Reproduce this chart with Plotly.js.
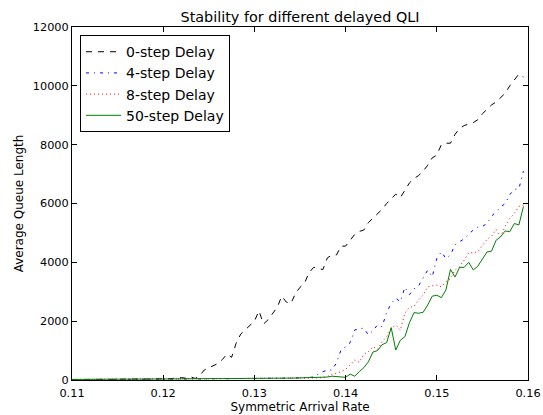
<!DOCTYPE html>
<html>
<head>
<meta charset="utf-8">
<script src="https://cdn.plot.ly/plotly-3.0.1.min.js"></script>
<style>html,body{margin:0;padding:0;background:#fff;}#chart{width:543px;height:415px;}</style>
</head>
<body>
<div id="chart"></div>
<script>
var arrivalRate = [
0.1100,0.1105,0.1110,0.1115,0.1120,0.1125,0.1130,0.1135,0.1140,0.1145,
0.1150,0.1155,0.1160,0.1165,0.1170,0.1175,0.1180,0.1185,0.1190,0.1195,
0.1200,0.1205,0.1210,0.1215,0.1220,0.1225,0.1230,0.1235,0.1240,0.1245,
0.1250,0.1255,0.1260,0.1265,0.1270,0.1275,0.1280,0.1285,0.1290,0.1295,
0.1300,0.1305,0.1310,0.1315,0.1320,0.1325,0.1330,0.1335,0.1340,0.1345,
0.1350,0.1355,0.1360,0.1365,0.1370,0.1375,0.1380,0.1385,0.1390,0.1395,
0.1400,0.1405,0.1410,0.1415,0.1420,0.1425,0.1430,0.1435,0.1440,0.1445,
0.1450,0.1455,0.1460,0.1465,0.1470,0.1475,0.1480,0.1485,0.1490,0.1495,
0.1500,0.1505,0.1510,0.1515,0.1520,0.1525,0.1530,0.1535,0.1540,0.1545,
0.1550,0.1555,0.1560,0.1565,0.1570,0.1575,0.1580,0.1585,0.1590,0.1595];

var delay0 = [
10,15,12,18,15,20,18,22,20,25,
22,28,25,30,28,35,30,38,35,40,
45,40,55,50,80,60,110,50,150,340,
420,480,560,700,880,770,1250,1560,1700,1850,
2000,2350,1900,2050,2250,2470,2850,2650,2600,2940,
3150,3300,3650,3830,3800,3750,4150,4250,4250,4550,
4550,4750,4950,5050,5100,5350,5500,5650,5800,6000,
6150,6320,6200,6450,6700,6850,6950,7100,7300,7550,
7650,8000,8050,8050,8350,8550,8650,8700,8750,8850,
9050,9200,9350,9450,9600,9750,10000,10200,10400,10300];

var delay4 = [
15,18,16,20,17,22,19,21,18,24,
20,23,21,26,22,25,24,28,25,30,
27,32,29,35,30,38,33,40,36,42,
38,45,40,47,43,50,45,52,48,55,
50,57,52,60,55,62,58,65,60,68,
64,72,80,110,200,280,340,340,580,1020,
1130,1270,1700,1750,1760,1530,1680,1870,1810,2300,
2600,2780,2660,3150,2900,3100,3200,3450,3735,3510,
4130,4360,4130,4250,4600,4700,4800,4950,5100,5200,
5220,5320,5570,5720,5880,6000,6300,6480,6500,7100];

var delay8 = [
18,20,17,22,19,23,21,25,22,26,
24,28,25,30,27,32,29,34,31,36,
33,38,35,40,37,42,39,44,41,46,
43,48,45,50,47,52,49,54,51,56,
53,58,55,60,57,62,59,64,61,66,
63,68,66,72,70,78,120,200,230,280,
360,510,680,600,880,960,1130,1040,1300,1470,
1750,1870,1700,2270,2470,2500,2720,2890,3170,3200,
3225,3170,3340,3450,3735,3870,4075,4325,4325,4360,
4585,4780,4890,5120,4870,5230,5490,5660,5900,5950];

var delay50 = [
20,22,21,24,23,25,24,27,26,28,
27,30,29,31,30,33,32,34,33,36,
35,38,37,40,39,42,41,44,43,46,
45,48,47,50,49,52,51,54,53,56,
55,58,57,60,59,62,61,64,63,66,
65,68,67,70,72,75,100,130,110,100,
90,200,130,280,420,620,950,1000,1200,1270,
1780,1020,1350,1470,1950,2290,2270,2300,2550,2850,
2880,2800,3060,3760,3500,3830,3830,4000,3740,3870,
4100,4350,4380,4750,4870,5070,5040,5320,5270,5900];

var seriesNames = ['0-step Delay','4-step Delay','8-step Delay','50-step Delay'];
var xTickVals = [0.11,0.12,0.13,0.14,0.15,0.16];
var xTickText = ['0.11','0.12','0.13','0.14','0.15','0.16'];
var yTickVals = [0,2000,4000,6000,8000,10000,12000];
var yTickText = ['0','2000','4000','6000','8000','10000','12000'];

var traces = [
  {x: arrivalRate, y: delay0, name: seriesNames[0], mode: 'lines', line: {color: '#000000', width: 1, dash: '6px,6px'}},
  {x: arrivalRate, y: delay4, name: seriesNames[1], mode: 'lines', line: {color: '#0000ff', width: 1, dash: '3px,5px,1px,5px'}},
  {x: arrivalRate, y: delay8, name: seriesNames[2], mode: 'lines', line: {color: '#ff0000', width: 1, dash: '1px,3px'}},
  {x: arrivalRate, y: delay50, name: seriesNames[3], mode: 'lines', line: {color: '#008000', width: 1}}
];

var axisCommon = {
  showline: true, linecolor: '#000', linewidth: 1, mirror: 'ticks',
  ticks: 'inside', ticklen: 5, tickcolor: '#000', tickwidth: 1,
  showgrid: false, zeroline: false, automargin: false,
  tickfont: {family: 'DejaVu Sans', size: 11.3, color: '#000'}
};

var layout = {
  width: 543, height: 415,
  margin: {l: 72, r: 15, t: 27, b: 35, pad: 0},
  paper_bgcolor: '#fff', plot_bgcolor: '#fff',
  font: {family: 'DejaVu Sans', color: '#000'},
  title: {text: 'Stability for different delayed QLI', font: {family: 'DejaVu Sans', size: 14.4, color: '#000'},
          x: 0.5, xref: 'paper', xanchor: 'center', y: 1 - 16.5/415, yref: 'container', yanchor: 'middle'},
  xaxis: Object.assign({}, axisCommon, {
    range: [0.11, 0.16], tickmode: 'array', tickvals: xTickVals, ticktext: xTickText,
    ticklabelstandoff: 2,
    title: {text: 'Symmetric Arrival Rate', font: {family: 'DejaVu Sans', size: 12, color: '#000'}, standoff: 4}
  }),
  yaxis: Object.assign({}, axisCommon, {
    range: [0, 12000], tickmode: 'array', tickvals: yTickVals, ticktext: yTickText,
    title: {text: 'Average Queue Length', font: {family: 'DejaVu Sans', size: 12, color: '#000'}, standoff: 6}
  }),
  showlegend: true,
  legend: {x: 0.0175, y: 0.977, xanchor: 'left', yanchor: 'top', bgcolor: '#fff',
           bordercolor: '#000', borderwidth: 1, itemwidth: 35,
           font: {family: 'DejaVu Sans', size: 14, color: '#000'}}
};

Plotly.newPlot('chart', traces, layout, {staticPlot: true, displayModeBar: false});
</script>
</body>
</html>
